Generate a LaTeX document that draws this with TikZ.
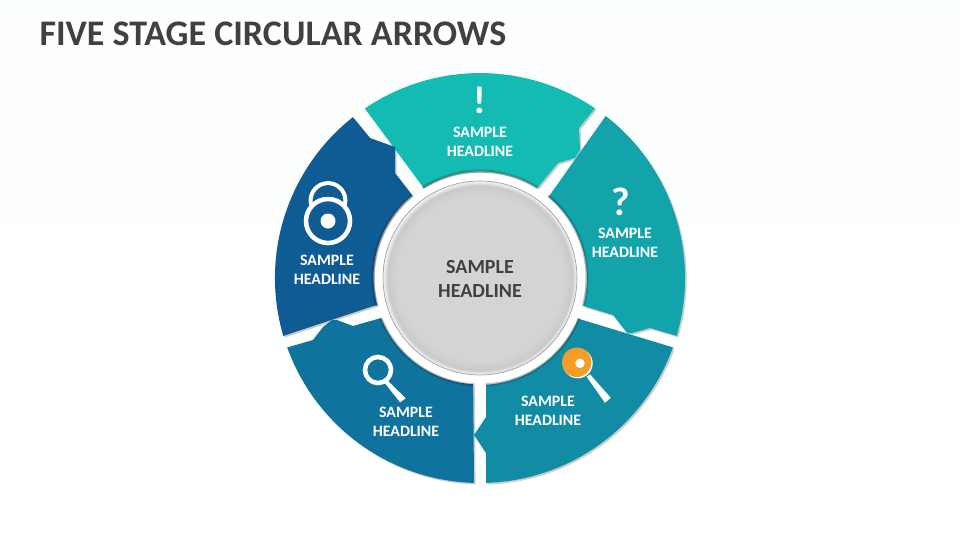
\documentclass[tikz,border=0pt]{standalone}
\usepackage{fontspec}
\setmainfont{Carlito}
\usetikzlibrary{shadows}

\definecolor{sectorTop}{HTML}{14BBB2}
\definecolor{sectorRight}{HTML}{12A3AB}
\definecolor{sectorLowRight}{HTML}{128CA5}
\definecolor{sectorLowLeft}{HTML}{0F739D}
\definecolor{sectorLeft}{HTML}{0F5C95}
\definecolor{darkText}{HTML}{404040}
\definecolor{loupeOrange}{HTML}{F49E27}
\pgfdeclareradialshading{hubBevel}{\pgfpoint{0bp}{0bp}}{color(0bp)=(black!17); color(21.5bp)=(black!17); color(23.8bp)=(black!21); color(24.6bp)=(black!9); color(25bp)=(black!5); color(50bp)=(black!5)}

\tikzset{every picture/.style={line width=0.75pt}}
\tikzset{sector/.style={drop shadow={opacity=0.4,shadow xshift=1.2pt,shadow yshift=-1.2pt}}}
\tikzset{headline/.style={text=white,font=\bfseries\fontsize{11.9}{14.25}\selectfont,align=center,inner sep=0.75pt}}
\tikzset{iconline/.style={draw=white,line width=3.4pt}}

\begin{document}
\begin{tikzpicture}[x=0.75pt,y=0.75pt,yscale=-1,xscale=1]
\useasboundingbox (0,0) rectangle (960,540);

%Shape: Background
\fill [top color=white!99!cyan,bottom color=white] (0,0) rectangle (960,540);

%Shape: Top sector
\fill [sectorTop,sector] (364.8,108.5) arc[start angle=-124.2,end angle=-55.9,radius=205] -- (579,128) -- (580,150) -- (575,158) -- (558,163) -- (537.5,187.8) arc[start angle=-57.5,end angle=-122.5,radius=106] -- cycle ;
%Shape: Right sector
\fill [sectorRight,sector] (605.7,116) arc[start angle=-52.2,end angle=16.4,radius=205] -- (650,328) -- (632,333) -- (627,333) -- (613,315) -- (583.3,305.9) arc[start angle=15.1,end angle=-50.3,radius=106] -- cycle ;
%Shape: Left sector
\fill [sectorLeft,sector] (283.3,335.9) arc[start angle=163.6,end angle=231.7,radius=205] -- (370,138) -- (395,147) -- (395,173) -- (412.2,195.2) arc[start angle=230.7,end angle=164.9,radius=106] -- cycle ;
%Shape: Lower left sector
\fill [sectorLowLeft,sector] (474,482.9) arc[start angle=91.7,end angle=160.2,radius=205] -- (313,340) -- (323,327) -- (332,320) -- (337,320) -- (353,326) -- (380.8,318.1) arc[start angle=158,end angle=93.2,radius=106] -- cycle ;
%Shape: Lower right sector
\fill [sectorLowRight,sector] (672.9,347.4) arc[start angle=19.8,end angle=88.3,radius=205] -- (486,453) -- (474,435) -- (486,417) -- (486,384.8) arc[start angle=86.8,end angle=22,radius=106] -- cycle ;

%Shape: Hub shadow on the sector edges
\begin{scope}[shift={(480,278)}]
\foreach \from/\to in {-122.5/-57.5,-50.3/15.1,22/86.8,93.2/158,164.9/230.7} {
\draw [black,opacity=0.14,line width=2.4pt] (\from:107) arc[start angle=\from,end angle=\to,radius=107] ;
\draw [black,opacity=0.14,line width=1.2pt] (\from:106.5) arc[start angle=\from,end angle=\to,radius=106.5] ;
}
\end{scope}
%Shape: Hub ring
\fill [white] (480,278) circle [radius=105] ;
%Shape: Hub
\draw [black!38,line width=0.5pt,shading=hubBevel] (480,278) circle [radius=97] ;

%Shape: Lock
\draw [iconline] (328,221) circle [radius=22] ;
\fill [white] (328,221) circle [radius=7.5] ;
\draw [iconline,line width=3pt] (311.2,205) arc[start angle=165,end angle=375,radius=17.4] ;

%Shape: Loupe on lower left sector
\draw [iconline] (378,370) circle [radius=13] ;
\fill [white] (388,381) -- (405.7,398.3) -- (400,402.3) -- (385,383.3) -- cycle ;

%Shape: Loupe on lower right sector
\fill [white] (590,374.3) -- (610.7,397.8) -- (605,402.8) -- (586.7,376.7) -- cycle ;
\fill [white] (577.7,363.3) circle [radius=15] ;
\fill [loupeOrange] (576.7,362.3) circle [radius=14.7] ;
\fill [white] (580,363.3) circle [radius=4.7] ;

% Text Node
\draw (38,34) node [anchor=west,inner sep=0.75pt,text=darkText,font=\bfseries\fontsize{27}{30}\selectfont] (title) {FIVE STAGE CIRCULAR ARROWS};
% Text Node
\draw (480,100.5) node [inner sep=0.75pt,text=white,font=\bfseries\fontsize{29}{30}\selectfont] (markBang) {!};
% Text Node
\draw (621,201.5) node [inner sep=0.75pt,text=white,font=\bfseries\fontsize{30}{30}\selectfont] (markQuery) {?};
% Text Node
\draw (480,141.7) node [headline] (headTop) {SAMPLE\\HEADLINE};
% Text Node
\draw (625,242.7) node [headline] (headRight) {SAMPLE\\HEADLINE};
% Text Node
\draw (548,410.7) node [headline] (headLowRight) {SAMPLE\\HEADLINE};
% Text Node
\draw (406,421.7) node [headline] (headLowLeft) {SAMPLE\\HEADLINE};
% Text Node
\draw (327,269.7) node [headline] (headLeft) {SAMPLE\\HEADLINE};
% Text Node
\draw (480,279) node [inner sep=0.75pt,text=darkText,align=center,font=\bfseries\fontsize{15}{18}\selectfont] (headHub) {SAMPLE\\HEADLINE};

\end{tikzpicture}
\end{document}
